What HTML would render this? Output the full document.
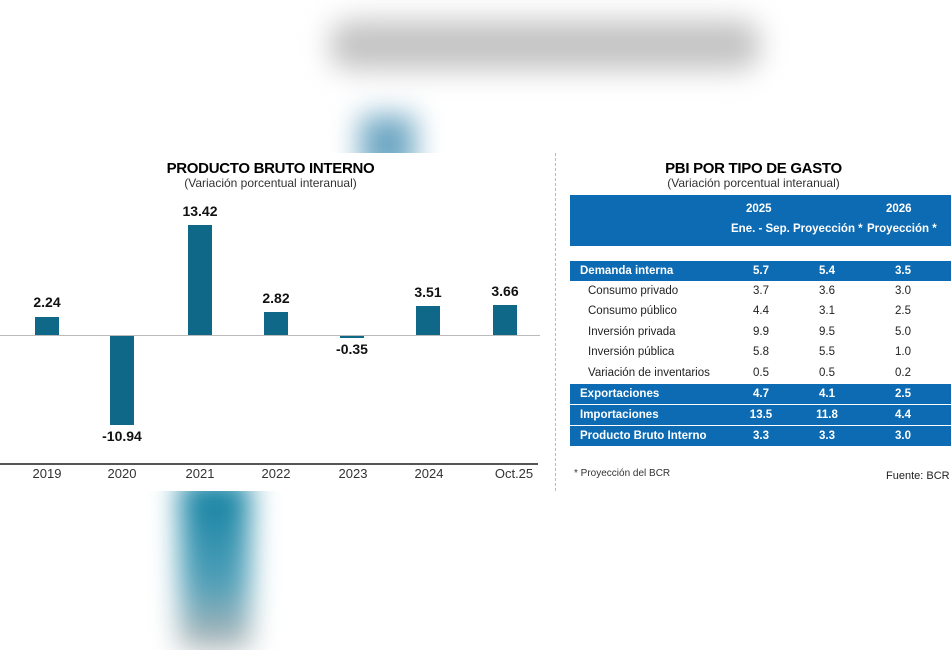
<!DOCTYPE html>
<html><head><meta charset="utf-8"><style>
body{margin:0;width:951px;height:640px;background:#fff;position:relative;overflow:hidden;font-family:"Liberation Sans",sans-serif;}
.a{position:absolute}
.blur{position:absolute;filter:blur(14px)}
.t{position:absolute;white-space:nowrap}
.bar{position:absolute;background:#0f6888;width:24px}
.v{position:absolute;font-weight:bold;font-size:14px;color:#111;width:80px;text-align:center}
.yr{position:absolute;font-size:13px;color:#333;width:60px;text-align:center;top:466px;font-family:"Liberation Sans Narrow","Liberation Sans",sans-serif}
.row{position:absolute;left:570px;width:381px;height:20px;font-size:11.5px;line-height:20px;color:#222}
.row.h{background:#0d6bb3;color:#fff;font-weight:bold}
.row span{position:absolute;top:0}
.c1{left:178px;width:26px;text-align:center}
.c2{left:244px;width:26px;text-align:center}
.c3{left:320px;width:26px;text-align:center}
</style></head><body>
<div class="blur" style="left:330px;top:20px;width:430px;height:50px;background:#c4c4c4;border-radius:20px"></div>
<div class="blur" style="left:360px;top:115px;width:55px;height:60px;background:#6fa8c4"></div>
<div class="blur" style="left:180px;top:480px;width:70px;height:170px;background:linear-gradient(#0d7fa0,#4f9fb8 60%,#bbb)"></div>

<div class="a" style="left:0;top:153px;width:541px;height:338px;background:#fff"></div>
<div class="a" style="left:556px;top:153px;width:395px;height:338px;background:#fff"></div>
<div class="a" style="left:555px;top:153px;height:338px;border-left:1px dashed #bbb"></div>

<div class="t" style="left:0;width:541px;text-align:center;top:160px;font-weight:bold;font-size:15px;letter-spacing:-0.3px">PRODUCTO BRUTO INTERNO</div>
<div class="t" style="left:0;width:541px;text-align:center;top:176px;font-size:12px;color:#333">(Variación porcentual interanual)</div>

<div class="bar" style="left:35px;top:317px;height:18px"></div>
<div class="bar" style="left:110px;top:335px;height:90px"></div>
<div class="bar" style="left:188px;top:225px;height:110px"></div>
<div class="bar" style="left:264px;top:312px;height:23px"></div>
<div class="bar" style="left:340px;top:335px;height:3px"></div>
<div class="bar" style="left:416px;top:306px;height:29px"></div>
<div class="bar" style="left:493px;top:305px;height:30px"></div>
<div class="a" style="left:0;top:335px;width:540px;height:1px;background:#bbb"></div>

<div class="v" style="left:7px;top:294px">2.24</div>
<div class="v" style="left:82px;top:428px">-10.94</div>
<div class="v" style="left:160px;top:203px">13.42</div>
<div class="v" style="left:236px;top:290px">2.82</div>
<div class="v" style="left:312px;top:341px">-0.35</div>
<div class="v" style="left:388px;top:284px">3.51</div>
<div class="v" style="left:465px;top:283px">3.66</div>

<div class="a" style="left:0;top:463px;width:538px;height:2px;background:#555"></div>
<div class="yr" style="left:17px">2019</div>
<div class="yr" style="left:92px">2020</div>
<div class="yr" style="left:170px">2021</div>
<div class="yr" style="left:246px">2022</div>
<div class="yr" style="left:323px">2023</div>
<div class="yr" style="left:399px">2024</div>
<div class="yr" style="left:484px">Oct.25</div>

<div class="t" style="left:556px;width:395px;text-align:center;top:160px;font-weight:bold;font-size:15px;letter-spacing:-0.3px">PBI POR TIPO DE GASTO</div>
<div class="t" style="left:556px;width:395px;text-align:center;top:176px;font-size:12px;color:#333">(Variación porcentual interanual)</div>

<div class="a" style="left:570px;top:195px;width:381px;height:51px;background:#0d6bb3;color:#fff;font-weight:bold;font-size:11.5px">
<div class="t" style="left:176px;top:8px">2025</div>
<div class="t" style="left:316px;top:8px">2026</div>
<div class="t" style="left:161px;top:28px">Ene. - Sep. Proyección *</div>
<div class="t" style="left:297px;top:28px">Proyección *</div>
</div>

<div class="row h" style="top:261px"><span style="left:10px">Demanda interna</span><span class="c1">5.7</span><span class="c2">5.4</span><span class="c3">3.5</span></div>
<div class="row" style="top:281px"><span style="left:18px">Consumo privado</span><span class="c1">3.7</span><span class="c2">3.6</span><span class="c3">3.0</span></div>
<div class="row" style="top:301px"><span style="left:18px">Consumo público</span><span class="c1">4.4</span><span class="c2">3.1</span><span class="c3">2.5</span></div>
<div class="row" style="top:322px"><span style="left:18px">Inversión privada</span><span class="c1">9.9</span><span class="c2">9.5</span><span class="c3">5.0</span></div>
<div class="row" style="top:342px"><span style="left:18px">Inversión pública</span><span class="c1">5.8</span><span class="c2">5.5</span><span class="c3">1.0</span></div>
<div class="row" style="top:363px"><span style="left:18px">Variación de inventarios</span><span class="c1">0.5</span><span class="c2">0.5</span><span class="c3">0.2</span></div>
<div class="row h" style="top:384px"><span style="left:10px">Exportaciones</span><span class="c1">4.7</span><span class="c2">4.1</span><span class="c3">2.5</span></div>
<div class="row h" style="top:405px"><span style="left:10px">Importaciones</span><span class="c1">13.5</span><span class="c2">11.8</span><span class="c3">4.4</span></div>
<div class="row h" style="top:426px"><span style="left:10px">Producto Bruto Interno</span><span class="c1">3.3</span><span class="c2">3.3</span><span class="c3">3.0</span></div>

<div class="t" style="left:574px;top:468px;font-size:10px;color:#333">* Proyección del BCR</div>
<div class="t" style="left:886px;top:470px;font-size:11px;color:#222">Fuente: BCR</div>
</body></html>
